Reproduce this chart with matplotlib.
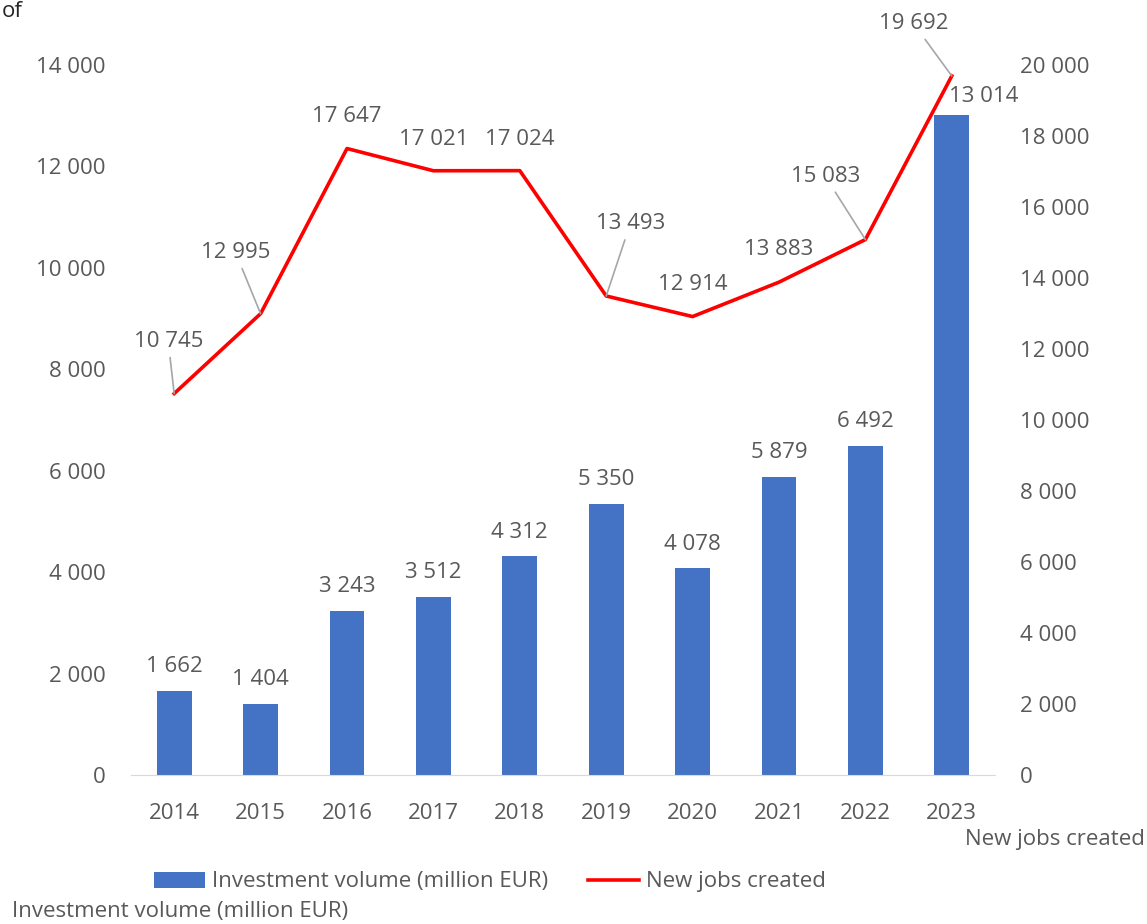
import matplotlib.pyplot as plt
import numpy as np

plt.rcParams['font.family'] = ['Open Sans', 'DejaVu Sans']

years = ["2014", "2015", "2016", "2017", "2018", "2019", "2020", "2021", "2022", "2023"]
investment = [1662, 1404, 3243, 3512, 4312, 5350, 4078, 5879, 6492, 13014]
jobs = [10745, 12995, 17647, 17021, 17024, 13493, 12914, 13883, 15083, 19692]

# label offsets (pixels) for the line labels; leader line where needed
job_offsets = [(-6, 52), (-25, 61), (0, 32), (0, 31), (0, 31), (24, 72), (0, 32), (0, 33), (-40, 63), (-38, 52)]
job_leader = [True, True, False, False, False, True, False, False, True, True]

GREY = "#595959"
BLUE = "#4472C4"
RED = "#FF0000"
FS = 16


def fmt(v):
    return f"{v:,}".replace(",", " ")


def main() -> None:
    fig = plt.figure(figsize=(11.47, 9.24), dpi=100)
    ax = fig.add_axes([131 / 1147, 1 - 775 / 924, 864 / 1147, 710 / 924])
    ax2 = ax.twinx()

    x = np.arange(len(years))
    bars = ax.bar(x, investment, width=0.405, color=BLUE, label="Investment volume (million EUR)", zorder=2)
    line, = ax2.plot(x, jobs, color=RED, lw=2.6, label="New jobs created", zorder=3)

    ax.set_xlim(-0.5, len(years) - 0.5)
    ax.set_ylim(0, 14000)
    ax2.set_ylim(0, 20000)
    ax.set_yticks(np.arange(0, 14001, 2000))
    ax2.set_yticks(np.arange(0, 20001, 2000))
    ax.set_yticklabels([fmt(v) for v in range(0, 14001, 2000)])
    ax2.set_yticklabels([fmt(v) for v in range(0, 20001, 2000)])
    ax.set_xticks(x)
    ax.set_xticklabels(years)

    for a in (ax, ax2):
        for s in a.spines.values():
            s.set_visible(False)
        a.tick_params(length=0, labelsize=FS, labelcolor=GREY)
    ax.spines["bottom"].set_visible(True)
    ax.spines["bottom"].set_color("#D9D9D9")
    ax.tick_params(axis="x", pad=20)
    ax.tick_params(axis="y", pad=18)
    ax2.tick_params(axis="y", pad=18)

    # bar labels
    for i, v in enumerate(investment):
        dx = 32 if i == len(investment) - 1 else 0
        dy = 19 if i == len(investment) - 1 else 24
        ax.annotate(fmt(v), (x[i], v), xytext=(dx, dy), textcoords="offset pixels",
                    ha="center", va="center", fontsize=FS, color=GREY, zorder=4)

    # line labels
    for i, v in enumerate(jobs):
        props = None
        if job_leader[i]:
            props = dict(arrowstyle="-", color="#A6A6A6", lw=1.2, shrinkA=2, shrinkB=0)
        ax2.annotate(fmt(v), (x[i], v), xytext=job_offsets[i], textcoords="offset pixels",
                     ha="center", va="center", fontsize=FS, color=GREY, arrowprops=props, zorder=4)

    fig.legend(handles=[bars, line], loc="center", bbox_to_anchor=(490 / 1147, 1 - 882 / 924),
               ncol=2, frameon=False, fontsize=FS, labelcolor=GREY, handlelength=2.3,
               handletextpad=0.3, columnspacing=1.8)

    fig.text(12 / 1147, 1 - 912 / 924, "Investment volume (million EUR)", fontsize=FS,
             color=GREY, ha="left", va="center")
    fig.text(965 / 1147, 1 - 840 / 924, "New jobs created", fontsize=FS,
             color=GREY, ha="left", va="center")
    fig.text(2 / 1147, 1 - 1 / 924, "of", fontsize=FS, color="#262626",
             ha="left", va="top")

    fig.savefig("out.png", dpi=100)


if __name__ == "__main__":
    main()
